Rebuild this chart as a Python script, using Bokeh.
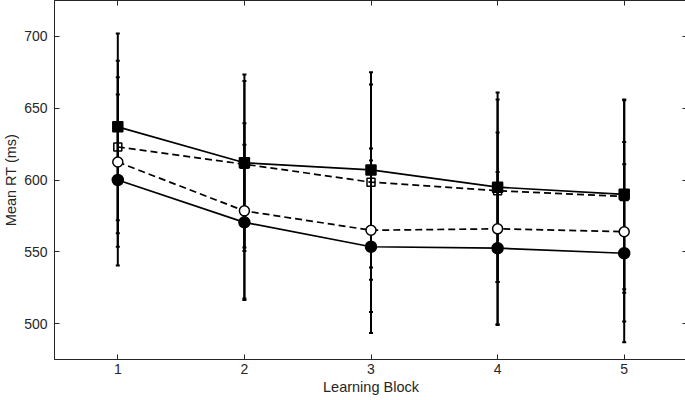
from bokeh.plotting import figure
from bokeh.models import (ColumnDataSource, Range1d, FixedTicker, LinearAxis, Whisker, TeeHead)
from bokeh.embed import file_html
from bokeh.resources import INLINE

blocks = [1, 2, 3, 4, 5]
x_ticks = [1, 2, 3, 4, 5]
y_ticks = [500, 550, 600, 650, 700]

# four conditions: means and error-bar half-widths (ms)
fsq_mean = [637, 612, 607, 595, 590]
fsq_err = [65, 61.5, 68, 66, 66]
osq_mean = [623, 611, 598.5, 592.5, 588.5]
osq_err = [60, 58, 68, 63.5, 67]
ocirc_mean = [612.5, 578.5, 565, 566, 564]
ocirc_err = [59, 61, 57, 67, 62.5]
fcirc_mean = [600, 570.5, 553.5, 552.5, 549]
fcirc_err = [59.5, 54, 60, 53, 62]

AX = "#262626"
FONT = "Liberation Sans"

p = figure(frame_width=633, frame_height=359, output_backend="svg", toolbar_location=None,
           x_range=Range1d(0.5, 5.5), y_range=Range1d(475, 725),
           min_border_left=42, min_border_top=0, min_border_right=2, min_border_bottom=10)
p.background_fill_color = "white"
p.border_fill_color = "white"
p.xgrid.visible = False
p.ygrid.visible = False
p.outline_line_color = AX
p.outline_line_width = 1

for ax, ticks in ((p.xaxis[0], x_ticks), (p.yaxis[0], y_ticks)):
    ax.ticker = FixedTicker(ticks=ticks)
    ax.major_tick_in = 5
    ax.major_tick_out = 0
    ax.minor_tick_line_color = None
    ax.axis_line_color = AX
    ax.major_tick_line_color = AX
    ax.major_label_text_color = AX
    ax.major_label_text_font = FONT
    ax.major_label_text_font_size = "14px"
    ax.axis_label_text_font = FONT
    ax.axis_label_text_font_size = "14.5px"
    ax.axis_label_text_font_style = "normal"
    ax.axis_label_text_color = AX

p.xaxis.axis_label = "Learning Block"
p.yaxis.axis_label = "Mean RT (ms)"
p.xaxis.major_label_standoff = 4
p.xaxis.axis_label_standoff = 2
p.yaxis.major_label_standoff = 7
p.yaxis.axis_label_standoff = 2

for loc, ticks in (("above", x_ticks), ("right", y_ticks)):
    a = LinearAxis(ticker=FixedTicker(ticks=ticks), major_tick_in=5, major_tick_out=0,
                   minor_tick_line_color=None, axis_line_color=AX, major_tick_line_color=AX,
                   major_label_overrides={t: "" for t in ticks},
                   major_label_text_font_size="1px", major_label_standoff=0)
    p.add_layout(a, loc)

series = [
    (fsq_mean, fsq_err, "square", "solid", 10, "black"),
    (osq_mean, osq_err, "square", "7 4", 8, None),
    (ocirc_mean, ocirc_err, "circle", "7 4", 10, "white"),
    (fcirc_mean, fcirc_err, "circle", "solid", 11, "black"),
]

sources = []
for mean, err, marker, dash, size, fill in series:
    src = ColumnDataSource(dict(x=blocks, y=mean,
                                lo=[m - e for m, e in zip(mean, err)],
                                hi=[m + e for m, e in zip(mean, err)]))
    sources.append(src)
    w = Whisker(source=src, base="x", upper="hi", lower="lo",
                line_color="black", line_width=2,
                upper_head=TeeHead(size=4, line_color="black", line_width=2),
                lower_head=TeeHead(size=4, line_color="black", line_width=2))
    p.add_layout(w)

for (mean, err, marker, dash, size, fill), src in zip(series, sources):
    p.line("x", "y", source=src, line_color="black", line_width=1.7, line_dash=dash)

for (mean, err, marker, dash, size, fill), src in zip(series, sources):
    if fill is None:
        p.scatter("x", "y", source=src, marker=marker, size=size, line_color="black",
                  line_width=1.5, fill_alpha=0)
    else:
        p.scatter("x", "y", source=src, marker=marker, size=size, line_color="black",
                  line_width=1.5, fill_color=fill)

open("out.html", "w").write(file_html(p, INLINE))
